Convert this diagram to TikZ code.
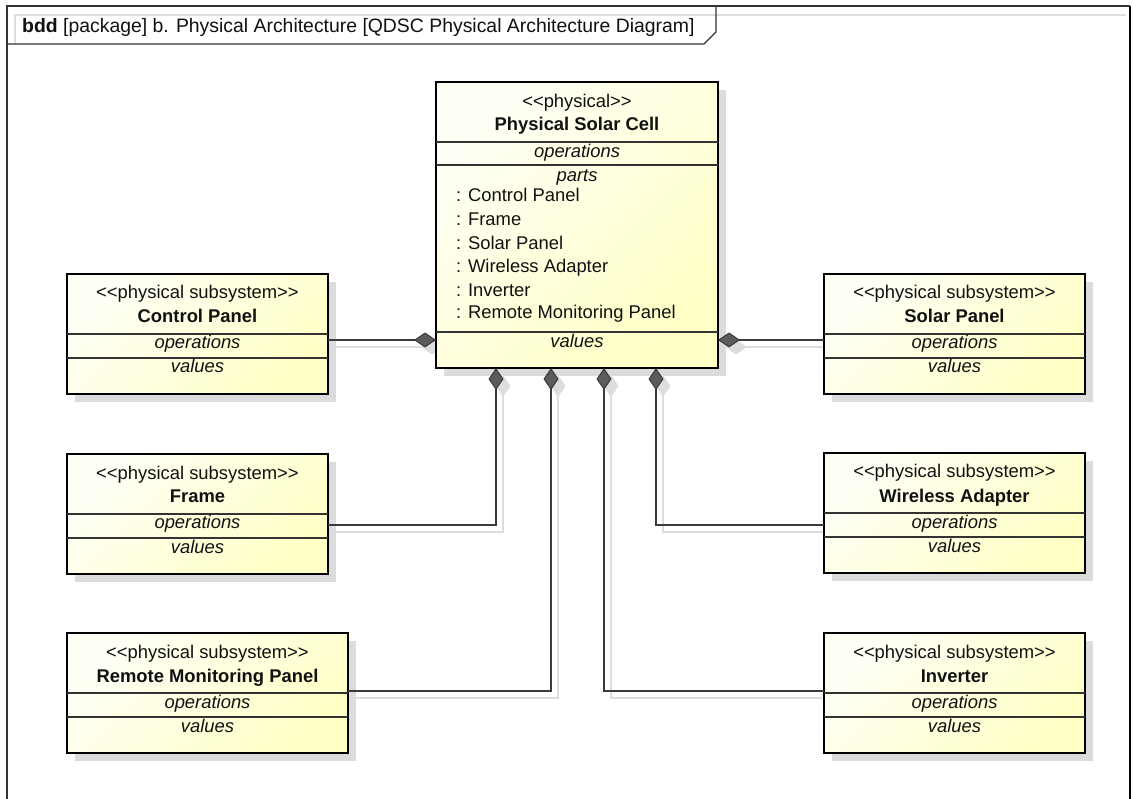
\documentclass[tikz,border=0pt]{standalone}
\usepackage{fontspec}
\setmainfont{Liberation Sans}
\usetikzlibrary{arrows.meta,backgrounds}

\definecolor{ink}{HTML}{111111}
\definecolor{fillA}{HTML}{FFFFF6}
\definecolor{fillB}{HTML}{FFFFC6}
\definecolor{shadowc}{HTML}{DCDCDC}
\definecolor{wire}{HTML}{3A3A3A}
\definecolor{wireshadow}{HTML}{DDDDDD}
\definecolor{diamondc}{HTML}{5C5C5C}
\definecolor{framec}{HTML}{333333}

\tikzset{
  blockbox/.style={draw=black, line width=2.8pt, rectangle, inner sep=0pt, outer sep=0pt,
    left color=fillA, right color=fillB, shading angle=45, anchor=north west},
  blockshadow/.style={fill=shadowc},
  sepline/.style={draw=black!80, line width=1.2pt},
  txt/.style={font=\fontsize{18.4}{22}\selectfont, text=ink, inner sep=0pt,
    text height=13.5pt, text depth=3.5pt},
  titletxt/.style={txt, font=\fontsize{18.4}{22}\selectfont\bfseries},
  comptxt/.style={txt, font=\fontsize{18.4}{22}\selectfont\itshape},
  conn/.style={draw=wire, line width=1.8pt,
    -{Diamond[length=22pt,width=15pt,fill=diamondc,line width=1pt]}},
  connshadow/.style={draw=wireshadow, line width=1.8pt,
    -{Diamond[length=22pt,width=15pt,fill=wireshadow,line width=1pt]},
    transform canvas={shift={(7,7)}}},
}

% a physical subsystem block: name, left, top, width, title
\newcommand\subsys[5]{%
  \fill[blockshadow] ({#2+8},{#3+8}) rectangle ++(#4,120);
  \node[blockbox, minimum width=#4pt, minimum height=120pt] (#1) at (#2,#3) {};
  \draw[sepline] ({#2},{#3+60}) -- ++(#4,0);
  \draw[sepline] ({#2},{#3+84}) -- ++(#4,0);
  \node[txt] (#1-st) at ({#2+#4/2},{#3+20}) {<{}<physical subsystem>{}>};
  \node[titletxt] (#1-nm) at ({#2+#4/2},{#3+44}) {#5};
  \node[comptxt] (#1-op) at ({#2+#4/2},{#3+70}) {operations};
  \node[comptxt] (#1-va) at ({#2+#4/2},{#3+94}) {values};
}

% connector with its soft drop shadow underneath
\newcommand\link[1]{%
  \begin{pgfonlayer}{background}\draw[connshadow] #1;\end{pgfonlayer}
  \draw[conn] #1;
}

\begin{document}
\begin{tikzpicture}[x=1pt,y=-1pt]
\useasboundingbox (0,0) rectangle (1133,799);
\begin{pgfonlayer}{background}
  \fill[white] (0,0) rectangle (1133,799);
\end{pgfonlayer}

% diagram frame and name tab
\draw[wireshadow, line width=1.5pt] (15,44) -- (15,15) -- (1126,15);
\draw[framec, line width=1.6pt] (7,810) -- (7,6) -- (1130,6);
\draw[black, line width=2.2pt] (1130,6) -- (1130,810);
\draw[framec, line width=1.4pt] (7,44) -- (704,44) -- (716,32) -- (716,6);
\node[txt, font=\fontsize{19.4}{22}\selectfont, anchor=west] (hdr) at (22,28)
  {\textbf{bdd} [package] b. Physical Architecture [QDSC Physical Architecture Diagram]};

% the whole solar cell
\fill[blockshadow] (444,90) rectangle (726,376);
\node[blockbox, minimum width=282pt, minimum height=286pt] (cell) at (436,82) {};
\draw[sepline] (436,142) -- (718,142);
\draw[sepline] (436,165) -- (718,165);
\draw[sepline] (436,332) -- (718,332);
\node[txt] (cell-st) at (577,103) {<{}<physical>{}>};
\node[titletxt] (cell-nm) at (577,126) {Physical Solar Cell};
\node[comptxt] (cell-op) at (577,153) {operations};
\node[comptxt] (cell-pt) at (577,177) {parts};
\node[txt, anchor=west] (p1) at (456,197) {: Control Panel};
\node[txt, anchor=west] (p2) at (456,221) {: Frame};
\node[txt, anchor=west] (p3) at (456,245) {: Solar Panel};
\node[txt, anchor=west] (p4) at (456,268) {: Wireless Adapter};
\node[txt, anchor=west] (p5) at (456,292) {: Inverter};
\node[txt, anchor=west] (p6) at (456,314) {: Remote Monitoring Panel};
\node[comptxt] (cell-va) at (577,343) {values};

% subsystems
\subsys{ctrl}{67}{274}{261}{Control Panel}
\subsys{frame}{67}{454}{261}{Frame}
\subsys{remote}{67}{633}{281}{Remote Monitoring Panel}
\subsys{solar}{824}{274}{261}{Solar Panel}
\subsys{wireless}{824}{453}{261}{Wireless Adapter}
\subsys{inverter}{824}{633}{261}{Inverter}

% composition ends on the solar cell
\coordinate (cell-l) at (436,340);
\coordinate (cell-r) at (718,340);
\coordinate (cell-b1) at (496,368);
\coordinate (cell-b2) at (551,368);
\coordinate (cell-b3) at (604,368);
\coordinate (cell-b4) at (656,368);

\link{(ctrl.east |- cell-l) -- (cell-l)}
\link{(solar.west |- cell-r) -- (cell-r)}
\link{([yshift=-11pt]frame.east) -| (cell-b1)}
\link{([yshift=2pt]remote.east) -| (cell-b2)}
\link{([yshift=2pt]inverter.west) -| (cell-b3)}
\link{([yshift=-12pt]wireless.west) -| (cell-b4)}
\end{tikzpicture}
\end{document}
